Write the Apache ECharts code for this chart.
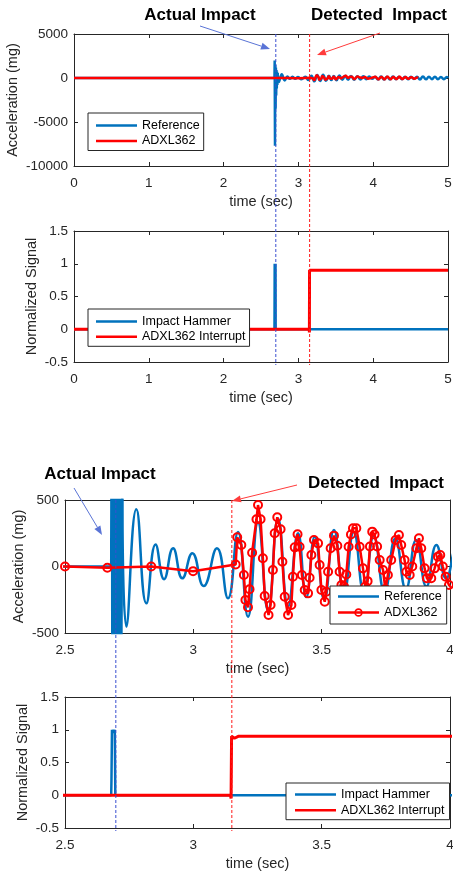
<!DOCTYPE html>
<html>
<head>
<meta charset="utf-8">
<script src="https://cdn.jsdelivr.net/npm/echarts@6/dist/echarts.min.js"></script>
<style>
  html, body { margin: 0; padding: 0; background: #fff; }
  #chart { width: 453px; height: 875px; }
</style>
</head>
<body>
<div id="chart"></div>
<script>
// event times (sec)
const impactTime = 2.698;
const detectTime = 3.15;

// axis ranges: [min, max, interval]
const fullTime = [0, 5, 1];
const zoomTime = [2.5, 4, 0.5];
const accelFull = [-10000, 5000, 5000];
const accelZoom = [-500, 500, 500];
const normRange = [-0.5, 1.5, 0.5];

// reference accelerometer, quiet part and the hammer hit (mg)
const refImpact = [
  [0, 0], [2.6, 0], [2.68, 0], [2.683, 2000], [2.687, -7700], [2.691, 1500],
  [2.695, -3500], [2.699, 1200], [2.703, -2000], [2.707, 900], [2.711, -1200],
  [2.715, 700], [2.719, -800], [2.723, 560]
];
// reference accelerometer ringing, peaks and troughs (mg)
const refRing = [
  [2.723, 560], [2.739, -452], [2.778, 430], [2.817, -277], [2.853, 165], [2.886, -95],
  [2.921, 137], [2.957, -89], [2.996, 100], [3.04, -147], [3.092, 137], [3.135, -239],
  [3.174, 260], [3.213, -377], [3.252, 330], [3.291, -330], [3.33, 360], [3.369, -300],
  [3.408, 250], [3.44, -230], [3.473, 224], [3.51, -250], [3.548, 274], [3.587, -200],
  [3.625, 260], [3.665, -200], [3.703, 230], [3.745, -190], [3.787, 210], [3.828, -170],
  [3.868, 200], [3.908, -150], [3.947, 162], [3.985, -90], [4.025, 150], [4.065, -170],
  [4.105, 180], [4.145, -160], [4.185, 150], [4.225, -170], [4.265, 160], [4.305, -140],
  [4.345, 150], [4.385, -150], [4.425, 130], [4.465, -140], [4.505, 140], [4.545, -120],
  [4.585, 150], [4.625, -160], [4.665, 180], [4.705, -150], [4.745, 140], [4.785, -130],
  [4.825, 150], [4.865, -140], [4.905, 120], [4.945, -130], [4.985, 110], [5.0, 0]
];
// ADXL362 samples (mg)
const adxlSamples = [
  [0, 0], [2.5, 0], [2.665, -10], [2.836, 0], [2.999, -35], [3.165, 15],
  [3.171, 220], [3.187, 162], [3.197, -64], [3.203, -252], [3.213, -307], [3.219, -171],
  [3.229, 104], [3.246, 355], [3.252, 462], [3.262, 355], [3.271, 62], [3.278, -222],
  [3.293, -365], [3.301, -290], [3.31, -26], [3.317, 250], [3.327, 370], [3.34, 280],
  [3.347, 36], [3.356, -227], [3.369, -365], [3.382, -290], [3.388, -77], [3.395, 144],
  [3.406, 242], [3.414, 149], [3.423, -64], [3.434, -177], [3.447, -202], [3.453, -84],
  [3.46, 86], [3.47, 199], [3.486, 174], [3.492, 11], [3.499, -177], [3.512, -265],
  [3.518, -190], [3.525, -39], [3.535, 137], [3.548, 232], [3.561, 156], [3.57, -39],
  [3.577, -139], [3.587, -150], [3.596, -60], [3.605, 149], [3.614, 240], [3.622, 287],
  [3.635, 287], [3.648, 149], [3.661, -14], [3.67, -150], [3.679, -110], [3.688, 150],
  [3.697, 262], [3.706, 240], [3.716, 150], [3.726, 49], [3.739, -26], [3.748, -170],
  [3.758, -64], [3.771, 49], [3.788, 199], [3.801, 237], [3.81, 162], [3.823, 49],
  [3.83, -39], [3.843, -64], [3.853, 0], [3.869, 137], [3.879, 212], [3.888, 137],
  [3.901, -14], [3.91, -89], [3.927, -89], [3.94, -14], [3.953, 74], [3.962, 86],
  [3.972, 0], [3.983, -77], [3.996, -139], [4.005, -160]
];
// rest of the ADXL362 record, only seen in the full view
const adxlTail = [
  [4.03, 160], [4.07, -190], [4.11, 170], [4.15, -180], [4.19, 200], [4.23, -170],
  [4.27, 160], [4.31, -150], [4.35, 170], [4.39, -140], [4.43, 130], [4.47, -120],
  [4.51, 110], [4.55, -100], [4.59, 60], [4.6, 0]
];
// normalized hammer force and interrupt line
const hammerSignal = [
  [0, 0], [2.68, 0], [2.681, 0.22], [2.683, 1], [2.686, 0.95], [2.689, 1],
  [2.692, 0.95], [2.694, 1], [2.696, 0], [5, 0]
];
const interruptSignal = [
  [0, 0], [3.145, 0], [3.147, -0.05], [3.149, 0.9], [3.16, 0.87], [3.175, 0.9], [5, 0.9]
];

const ink = '#262626';
const font = 'Liberation Sans, Arial, sans-serif';
const blue = '#0072BD';
const red = '#FF0000';

const grids = [
  { left: 74, top: 34, width: 374, height: 132 },
  { left: 74, top: 231, width: 374, height: 131 },
  { left: 65, top: 500, width: 385, height: 133 },
  { left: 65, top: 697, width: 385, height: 131 }
].map(g => Object.assign(g, { containLabel: false, outerBoundsMode: 'none' }));

const xRanges = [fullTime, fullTime, zoomTime, zoomTime];
const yRanges = [accelFull, normRange, accelZoom, normRange];
const yNames = ['Acceleration (mg)', 'Normalized Signal', 'Acceleration (mg)', 'Normalized Signal'];
const yGaps = [54, 35, 39, 35];

function baseAxis(g, r) {
  return {
    type: 'value', gridIndex: g, min: r[0], max: r[1], interval: r[2],
    axisLine: { show: true, onZero: false, lineStyle: { color: ink, width: 1 } },
    axisTick: { show: true, inside: true, length: 4, lineStyle: { color: ink, width: 1 } },
    splitLine: { show: false },
    nameMoveOverlap: false
  };
}
const labelStyle = {
  color: ink, fontSize: 13.5, fontFamily: font, showMinLabel: true, showMaxLabel: true,
  formatter: v => String(v)
};
const nameStyle = { color: ink, fontSize: 14.5, fontFamily: font };

const xAxis = [], yAxis = [];
for (let g = 0; g < 4; g++) {
  xAxis.push(Object.assign(baseAxis(g, xRanges[g]), {
    position: 'bottom',
    axisLabel: Object.assign({ margin: 10 }, labelStyle),
    name: 'time (sec)', nameLocation: 'middle', nameGap: 28, nameTextStyle: nameStyle
  }));
  yAxis.push(Object.assign(baseAxis(g, yRanges[g]), {
    position: 'left',
    axisLabel: Object.assign({ margin: 6 }, labelStyle),
    name: yNames[g], nameLocation: 'middle', nameGap: yGaps[g], nameTextStyle: nameStyle
  }));
}
for (let g = 0; g < 4; g++) {
  xAxis.push(Object.assign(baseAxis(g, xRanges[g]), { position: 'top', axisLabel: { show: false } }));
  yAxis.push(Object.assign(baseAxis(g, yRanges[g]), { position: 'right', axisLabel: { show: false } }));
}

function line(name, g, data, color, width, extra) {
  return Object.assign({
    type: 'line', name, xAxisIndex: g, yAxisIndex: g, data,
    symbol: 'none', showSymbol: false, clip: true,
    lineStyle: { color, width }, itemStyle: { color },
    emphasis: { disabled: true }
  }, extra || {});
}

const markers = {
  symbol: 'circle', symbolSize: 8, showSymbol: true, showAllSymbol: true,
  itemStyle: { color: 'rgba(255,255,255,0)', borderColor: red, borderWidth: 2 }, z: 3
};

const series = [
  line('Reference', 0, refImpact, blue, 2.5),
  line('Reference', 0, refRing, blue, 2.5, { smooth: 0.5 }),
  line('ADXL362', 0, adxlSamples.concat(adxlTail), red, 2.5, { z: 3 }),
  line('Impact Hammer', 1, hammerSignal, blue, 2.5),
  line('ADXL362 Interrupt', 1, interruptSignal, red, 3, { z: 3 }),
  line('Reference ', 2, refImpact, blue, 2.5),
  line('Reference ', 2, refRing, blue, 2.5, { smooth: 0.5 }),
  line('ADXL362 ', 2, adxlSamples, red, 2.5, markers),
  line('Impact Hammer ', 3, hammerSignal, blue, 2.5),
  line('ADXL362 Interrupt ', 3, interruptSignal, red, 3, { z: 3 })
];

// legend glyphs: plain line, and line with a hollow circle
const lineIcon = 'path://M0,0h41v2.5h-41z';
const circleIcon = 'path://M0,3h41v2.5h-41z' +
  'M16.25,4.25a4.25,4.25 0 1,1 8.5,0a4.25,4.25 0 1,1 -8.5,0z' +
  'M17.9,4.25a2.6,2.6 0 1,0 5.2,0a2.6,2.6 0 1,0 -5.2,0z';

function item(name, color, icon) {
  return { name, icon: icon || lineIcon, itemStyle: { color, borderWidth: 0 } };
}

function legendBox(items, left, top, pad, gap) {
  return {
    data: items, orient: 'vertical', left, top, padding: pad, itemGap: gap,
    itemWidth: 41, itemHeight: 14, symbolKeepAspect: true,
    backgroundColor: '#fff', borderColor: ink,
    borderWidth: 1, borderRadius: 0, selectedMode: false, z: 10,
    formatter: n => n.trim(),
    textStyle: { color: '#000', fontSize: 12.5, fontFamily: font }
  };
}

const chart = echarts.init(document.getElementById('chart'), null, { renderer: 'canvas' });
chart.setOption({
  backgroundColor: '#fff',
  animation: false,
  grid: grids,
  xAxis, yAxis, series,
  legend: [
    legendBox([item('Reference', blue), item('ADXL362', red)], 88, 113, [6, 4, 3, 8], 2.5),
    legendBox([item('Impact Hammer', blue), item('ADXL362 Interrupt', red)], 88, 309, [6, 4, 3, 8], 2.3),
    legendBox([item('Reference ', blue), item('ADXL362 ', red, circleIcon)], 330, 586, [4, 5, 5, 8], 3),
    legendBox([item('Impact Hammer ', blue), item('ADXL362 Interrupt ', red)], 286, 783, [5, 5, 3, 9], 2.7)
  ]
});

// dashed event lines spanning each pair of plots
function vline(t, gTop, gBot, color) {
  const p0 = chart.convertToPixel({ xAxisIndex: gTop, yAxisIndex: gTop }, [t, yRanges[gTop][1]]);
  const p1 = chart.convertToPixel({ xAxisIndex: gBot, yAxisIndex: gBot }, [t, yRanges[gBot][0]]);
  return {
    type: 'line', z: 20,
    shape: { x1: p0[0], y1: p0[1], x2: p1[0], y2: p1[1] + 3 },
    style: { stroke: color, lineWidth: 1, lineDash: [3, 2] }
  };
}

function arrow(x1, y1, x2, y2, color) {
  const a = Math.atan2(y2 - y1, x2 - x1), len = 9, half = 3.5;
  const bx = x2 - len * Math.cos(a), by = y2 - len * Math.sin(a);
  const nx = -Math.sin(a) * half, ny = Math.cos(a) * half;
  return [
    { type: 'line', z: 20, shape: { x1, y1, x2: bx, y2: by }, style: { stroke: color, lineWidth: 1 } },
    { type: 'polygon', z: 20, shape: { points: [[x2, y2], [bx + nx, by + ny], [bx - nx, by - ny]] }, style: { fill: color } }
  ];
}

function label(text, x, y) {
  return {
    type: 'text', z: 20, x, y,
    style: { text, fill: '#000', fontSize: 17, fontWeight: 'bold', fontFamily: font, align: 'center', verticalAlign: 'middle' }
  };
}

const arrowBlue = '#5a74d6';
const arrowRed = '#ff3b3b';
chart.setOption({
  graphic: [
    vline(impactTime, 0, 1, '#3a4fd0'),
    vline(detectTime, 0, 1, '#ff1a1a'),
    vline(impactTime, 2, 3, '#3a4fd0'),
    vline(detectTime, 2, 3, '#ff1a1a'),
    label('Actual Impact', 200, 15),
    label('Detected  Impact', 379, 15),
    label('Actual Impact', 100, 474),
    label('Detected  Impact', 376, 483)
  ].concat(
    arrow(200, 26, 270, 49, arrowBlue),
    arrow(380, 33, 317, 55, arrowRed),
    arrow(74, 488, 102, 535, arrowBlue),
    arrow(297, 485, 232, 501, arrowRed)
  )
});
</script>
</body>
</html>
